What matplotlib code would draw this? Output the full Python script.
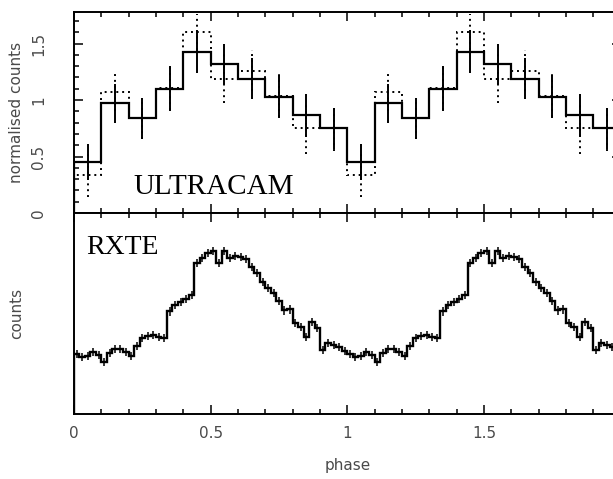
import numpy as np
import matplotlib
matplotlib.use("Agg")
import matplotlib.pyplot as plt
from matplotlib.ticker import MultipleLocator, NullLocator

# ---------------- data ----------------
# ULTRACAM: 10 phase bins (width 0.1), plotted for two cycles
uc_solid = [0.454, 0.97, 0.838, 1.10, 1.43, 1.32, 1.19, 1.03, 0.867, 0.75]
uc_solid_err = [0.16, 0.17, 0.18, 0.20, 0.19, 0.18, 0.18, 0.19, 0.19, 0.18]
uc_dotted = [0.336, 1.07, 0.838, 1.11, 1.60, 1.19, 1.26, 1.04, 0.75, 0.75]
uc_dotted_err = [0.19, 0.17, 0.18, 0.20, 0.16, 0.22, 0.18, 0.19, 0.23, 0.20]

# RXTE: 50 phase bins (width 0.02), arbitrary counts, two cycles
rxte_counts = [29.7, 28.2, 28.7, 30.7, 29.2, 25.7, 30.2, 32.2, 32.2, 30.7,
               28.7, 33.7, 37.6, 38.6, 39.1, 38.1, 37.6, 51.0, 54.0, 55.9,
               57.4, 59.4, 75.2, 77.7, 80.2, 81.2, 75.2, 81.2, 77.7, 78.7,
               78.2, 77.2, 73.3, 70.3, 65.8, 62.9, 60.4, 56.4, 51.5, 52.0,
               45.5, 43.1, 38.1, 46.0, 42.6, 31.7, 35.1, 34.2, 33.2, 31.2]
rxte_err = 2.0

n_cycles = 2
x_ticks = [0, 0.5, 1, 1.5, 2]
x_tick_labels = ["0", "0.5", "1", "1.5", ""]
y_ticks_top = [0, 0.5, 1, 1.5]
y_tick_labels_top = ["0", "0.5", "1", "1.5"]

# ---------------- figure ----------------
W, H = 613, 479
fig = plt.figure(figsize=(W / 100, H / 100), dpi=100)
left = 74 / W
width = 546.6 / W
ax1 = fig.add_axes([left, 1 - 213 / H, width, 201 / H])
ax2 = fig.add_axes([left, 1 - 414 / H, width, 201 / H])

tick_col = "#4a4a4a"
spine_lw = 1.4
fs = 11

def style(ax):
    for s in ax.spines.values():
        s.set_linewidth(spine_lw)
    ax.tick_params(which="both", direction="in", top=True, right=True,
                   width=1.1, color="k")
    ax.tick_params(which="major", length=6.5)
    ax.tick_params(which="minor", length=3.5)
    ax.set_xlim(0, 2)
    ax.xaxis.set_major_locator(MultipleLocator(0.5))
    ax.xaxis.set_minor_locator(MultipleLocator(0.1))

style(ax1)
style(ax2)

# ---- top panel: ULTRACAM ----
nb = len(uc_solid)
edges = np.arange(nb * n_cycles + 1) / nb
centers = (edges[:-1] + edges[1:]) / 2
s_vals = np.tile(uc_solid, n_cycles)
s_err = np.tile(uc_solid_err, n_cycles)
d_vals = np.tile(uc_dotted, n_cycles)
d_err = np.tile(uc_dotted_err, n_cycles)

ax1.stairs(d_vals, edges, color="k", linestyle=(0, (1, 2)), linewidth=1.4)
eb = ax1.errorbar(centers, d_vals, yerr=d_err, fmt="none", ecolor="k",
                  elinewidth=1.4, capsize=0)
for c in eb[2]:
    c.set_linestyle((0, (1, 2)))
ax1.stairs(s_vals, edges, color="k", linewidth=1.6)
ax1.errorbar(centers, s_vals, yerr=s_err, fmt="none", ecolor="k",
             elinewidth=1.4, capsize=0)

ax1.set_ylim(0, 1.78)
ax1.yaxis.set_minor_locator(MultipleLocator(0.1))
ax1.set_yticks(y_ticks_top)
ax1.set_yticklabels(y_tick_labels_top, rotation=90, va="center",
                    fontsize=fs, color=tick_col)
ax1.tick_params(axis="y", which="major", pad=20)
ax1.set_xticklabels([])
ax1.set_ylabel("normalised counts", fontsize=fs, color=tick_col)
ax1.yaxis.set_label_coords(-50 / 546.6, 0.5)
ax1.text(59 / 546.6, 0.13, "ULTRACAM", transform=ax1.transAxes,
         fontsize=21, family="Liberation Serif", ha="left", va="center")

# ---- bottom panel: RXTE ----
nr = len(rxte_counts)
redges = np.arange(nr * n_cycles + 1) / nr
rcenters = (redges[:-1] + redges[1:]) / 2
r_vals = np.tile(rxte_counts, n_cycles)
ax2.stairs(r_vals, redges, color="k", linewidth=1.7)
ax2.errorbar(rcenters, r_vals, yerr=rxte_err, fmt="none", ecolor="k",
             elinewidth=1.1, capsize=0)
ax2.set_ylim(0, 100)
ax2.yaxis.set_major_locator(NullLocator())
ax2.yaxis.set_minor_locator(NullLocator())
ax2.set_xticks(x_ticks)
ax2.set_xticklabels(x_tick_labels, fontsize=fs, color=tick_col)
ax2.tick_params(axis="x", which="major", pad=9)
ax2.set_ylabel("counts", fontsize=fs, color=tick_col)
ax2.yaxis.set_label_coords(-50 / 546.6, 0.5)
ax2.set_xlabel("phase", fontsize=fs, color=tick_col, labelpad=12)
ax2.text(12 / 546.6, 0.83, "RXTE", transform=ax2.transAxes,
         fontsize=20, family="Liberation Serif", ha="left", va="center")

fig.savefig("out.png", dpi=100)
